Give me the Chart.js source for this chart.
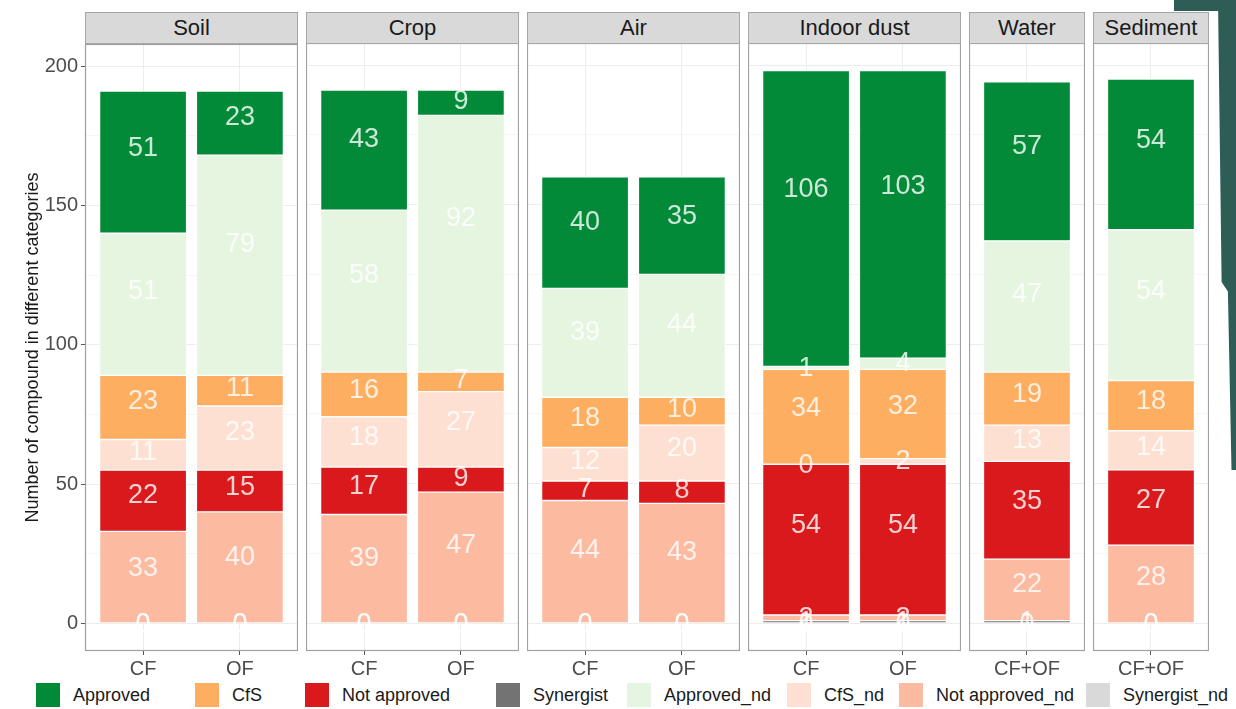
<!DOCTYPE html>
<html><head><meta charset="utf-8">
<script src="https://cdn.jsdelivr.net/npm/chart.js@4.4.1/dist/chart.umd.min.js"></script>
<style>
html,body{margin:0;padding:0;background:#fff;}
body{width:1236px;height:709px;position:relative;overflow:hidden;font-family:"Liberation Sans",Arial,sans-serif;}
canvas{position:absolute;}
.strip{position:absolute;top:12px;height:32px;box-sizing:border-box;background:#d9d9d9;border:1px solid #a6a6a6;color:#1a1a1a;font-size:22px;line-height:29px;text-align:center;}
.lg-key{position:absolute;top:683px;width:24px;height:24px;}
.lg-txt{position:absolute;top:683px;line-height:24px;font-size:18px;color:#1a1a1a;white-space:nowrap;}
.deco{position:absolute;background:#2e5d55;}
</style></head><body>
<script>
// ---- data ----
const facets = ["Soil", "Crop", "Air", "Indoor dust", "Water", "Sediment"];
const facetCategories = [["CF","OF"],["CF","OF"],["CF","OF"],["CF","OF"],["CF+OF"],["CF+OF"]];
// values per bar, in order: Soil CF, Soil OF, Crop CF, Crop OF, Air CF, Air OF, Indoor CF, Indoor OF, Water, Sediment
const approved       = [51, 23, 43,  9, 40, 35, 106, 103, 57, 54];
const approvedNd     = [51, 79, 58, 92, 39, 44,   1,   4, 47, 54];
const cfs            = [23, 11, 16,  7, 18, 10,  34,  32, 19, 18];
const cfsNd          = [11, 23, 18, 27, 12, 20,   0,   2, 13, 14];
const notApproved    = [22, 15, 17,  9,  7,  8,  54,  54, 35, 27];
const notApprovedNd  = [33, 40, 39, 47, 44, 43,   2,   2, 22, 28];
const synergist      = [ 0,  0,  0,  0,  0,  0,   1,   1,  1,  0];
const synergistNd    = [ 0,  0,  0,  0,  0,  0,   0,   0,  0,  0];
const yTickValues  = [0, 50, 100, 150, 200];
const yMinorValues = [25, 75, 125, 175];
const yTitle = "Number of compound in different categories";

const seriesValues = {
  "Approved": approved, "Approved_nd": approvedNd, "CfS": cfs, "CfS_nd": cfsNd,
  "Not approved": notApproved, "Not approved_nd": notApprovedNd,
  "Synergist": synergist, "Synergist_nd": synergistNd
};
// ---- style ----
const colors = {
  "Approved": "#038a38", "CfS": "#fdae61", "Not approved": "#d9191c", "Synergist": "#737373",
  "Approved_nd": "#e5f5e0", "CfS_nd": "#fee0d2", "Not approved_nd": "#fcbba1", "Synergist_nd": "#d9d9d9"
};
const stackOrder = ["Synergist_nd","Synergist","Not approved_nd","Not approved","CfS_nd","CfS","Approved_nd","Approved"];
const legendOrder = ["Approved","CfS","Not approved","Synergist","Approved_nd","CfS_nd","Not approved_nd","Synergist_nd"];
const legendKeyX = [36, 195, 305, 496, 627, 787, 899, 1086];
const panelLeft  = [85, 306, 527, 748, 969, 1093];
const panelWidth = [213, 213, 213, 213, 116, 116];
const Y_AXIS_W = 85, CANVAS_TOP = 29, PAD_TOP = 14, AREA_H = 608, X_AXIS_H = 30;
const LABEL_VJUST = 0.6;
const FONT = '"Liberation Sans", Arial, sans-serif';
Chart.defaults.font.family = FONT;

const panelBorder = {
  id: 'panelBorder',
  afterDraw(chart) {
    const a = chart.chartArea, ctx = chart.ctx;
    ctx.save(); ctx.strokeStyle = '#a0a0a0'; ctx.lineWidth = 1.2;
    ctx.strokeRect(a.left + 0.5, a.top + 0.5, a.right - a.left - 1, a.bottom - a.top - 1);
    ctx.restore();
  }
};
const segLabels = {
  id: 'segLabels',
  afterDatasetsDraw(chart) {
    const ctx = chart.ctx;
    ctx.save();
    ctx.font = '27px ' + FONT;
    ctx.fillStyle = 'rgba(255,255,255,0.8)';
    ctx.textAlign = 'center'; ctx.textBaseline = 'middle';
    chart.data.datasets.forEach((ds, di) => {
      const meta = chart.getDatasetMeta(di);
      meta.data.forEach((el, i) => {
        const p = el.getProps(['x','y','base'], true);
        ctx.fillText(String(ds.data[i].y), p.x, p.base + LABEL_VJUST * (p.y - p.base) + 1);
      });
    });
    ctx.restore();
  }
};

let start = 0;
facets.forEach((name, f) => {
  const cats = facetCategories[f];
  const s0 = start; start += cats.length;
  const first = f === 0;
  const left = panelLeft[f] - (first ? Y_AXIS_W : 0);
  const width = panelWidth[f] + (first ? Y_AXIS_W : 0);
  const cv = document.createElement('canvas');
  cv.width = width; cv.height = PAD_TOP + AREA_H + X_AXIS_H;
  cv.style.left = left + 'px'; cv.style.top = CANVAS_TOP + 'px';
  cv.style.width = width + 'px'; cv.style.height = cv.height + 'px';
  document.body.appendChild(cv);

  const strip = document.createElement('div');
  strip.className = 'strip';
  strip.style.left = panelLeft[f] + 'px'; strip.style.width = panelWidth[f] + 'px';
  strip.textContent = name;
  document.body.appendChild(strip);

  const datasets = stackOrder.map(s => ({
    label: s,
    backgroundColor: colors[s],
    borderColor: '#ffffff', borderWidth: 1, borderSkipped: false,
    barThickness: 87,
    data: cats.map((c, i) => ({ x: i + 1, y: seriesValues[s][s0 + i] }))
  }));

  new Chart(cv, {
    type: 'bar',
    data: { datasets },
    options: {
      responsive: false, animation: false,
      layout: { padding: { top: PAD_TOP, left: 0, right: 0, bottom: 0 } },
      plugins: { legend: { display: false }, tooltip: { enabled: false } },
      scales: {
        x: {
          type: 'linear', stacked: true, offset: false, min: 0.4, max: cats.length + 0.6,
          afterBuildTicks: sc => { sc.ticks = cats.map((c, i) => ({ value: i + 1 })); },
          ticks: { callback: (v, i) => cats[i], autoSkip: false, maxRotation: 0, font: { size: 20 }, color: '#4d4d4d', padding: 2 },
          grid: { offset: false, color: '#ededed', lineWidth: 1, tickLength: 4, tickColor: '#555' },
          border: { display: false },
          afterFit: sc => { sc.height = X_AXIS_H; }
        },
        y: {
          type: 'linear', stacked: true, min: -9.9, max: 207.9,
          afterBuildTicks: sc => {
            sc.ticks = yTickValues.concat(yMinorValues).sort((a, b) => a - b).map(v => ({ value: v }));
          },
          ticks: { display: first, autoSkip: false, callback: v => yTickValues.includes(v) ? String(v) : '', font: { size: 20 }, color: '#4d4d4d', padding: 3 },
          grid: {
            color: '#ededed',
            lineWidth: c => (c.tick && yTickValues.includes(c.tick.value)) ? 1 : 0.5,
            drawTicks: first, tickLength: 4,
            tickColor: c => (c.tick && yTickValues.includes(c.tick.value)) ? '#555' : 'rgba(0,0,0,0)'
          },
          border: { display: false },
          title: { display: first, text: yTitle, font: { size: 18 }, color: '#1a1a1a', padding: { top: 22, bottom: 0 } },
          afterFit: sc => { sc.width = first ? Y_AXIS_W : 0; }
        }
      }
    },
    plugins: [panelBorder, segLabels]
  });
});

legendOrder.forEach((s, i) => {
  const k = document.createElement('div');
  k.className = 'lg-key'; k.style.left = legendKeyX[i] + 'px'; k.style.background = colors[s];
  document.body.appendChild(k);
  const t = document.createElement('div');
  t.className = 'lg-txt'; t.style.left = (legendKeyX[i] + 37) + 'px'; t.textContent = s;
  document.body.appendChild(t);
});
</script>
<div class="deco" style="left:1174px;top:0;width:62px;height:11px;"></div>
<div class="deco" style="left:1218px;top:0;width:18px;height:470px;clip-path:polygon(0 0,100% 0,100% 100%,75% 100%,55% 62%,20% 60%);"></div>
</body></html>
